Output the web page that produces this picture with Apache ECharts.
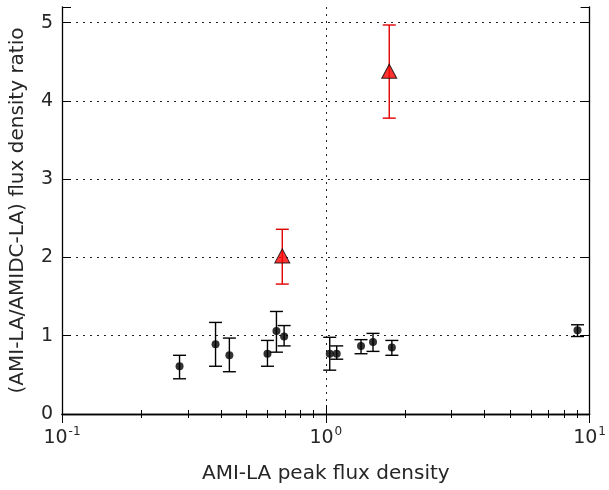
<!DOCTYPE html>
<html>
<head>
<meta charset="utf-8">
<script src="https://cdn.jsdelivr.net/npm/echarts@6/dist/echarts.min.js"></script>
<style>
  html, body { margin: 0; padding: 0; background: #fff; }
  #chart { width: 609px; height: 490px; }
</style>
</head>
<body>
<div id="chart"></div>
<script>
// 数据
var blackX  = [0.279, 0.382, 0.431, 0.601, 0.650, 0.695, 1.035, 1.10, 1.36, 1.51, 1.78, 9.0];
var blackY  = [0.61, 0.89, 0.75, 0.77, 1.06, 0.99, 0.77, 0.77, 0.87, 0.92, 0.85, 1.07];
var blackLo = [0.45, 0.61, 0.54, 0.61, 0.79, 0.87, 0.56, 0.70, 0.77, 0.80, 0.75, 0.99];
var blackHi = [0.75, 1.17, 0.97, 0.94, 1.31, 1.13, 0.98, 0.87, 0.95, 1.03, 0.94, 1.14];

var redX  = [0.684, 1.74];
var redY  = [2.02, 4.38];
var redLo = [1.66, 3.78];
var redHi = [2.36, 4.97];

var yTicks = [0, 1, 2, 3, 4, 5];

var font = 'DejaVu Sans';
var textColor = '#262626';

function pairs(xs, ys) {
  return xs.map(function (x, i) { return [x, ys[i]]; });
}

// 误差棒
function errorBars(xs, lo, hi, color) {
  return {
    type: 'custom',
    data: xs.map(function (x, i) { return [x, lo[i], hi[i]]; }),
    encode: { x: 0, y: [1, 2] },
    z: 2,
    silent: true,
    renderItem: function (params, api) {
      var a = api.coord([api.value(0), api.value(1)]);
      var b = api.coord([api.value(0), api.value(2)]);
      var hw = 6.5;
      var style = { stroke: color, lineWidth: 1.4 };
      return {
        type: 'group',
        children: [
          { type: 'line', shape: { x1: a[0], y1: a[1], x2: b[0], y2: b[1] }, style: style },
          { type: 'line', shape: { x1: a[0] - hw, y1: a[1], x2: a[0] + hw, y2: a[1] }, style: style },
          { type: 'line', shape: { x1: b[0] - hw, y1: b[1], x2: b[0] + hw, y2: b[1] }, style: style }
        ]
      };
    }
  };
}

// 10 的幂，上标
function logLabel(v) {
  var e = Math.round(Math.log10(v));
  return '{b|10}{s|' + (e < 0 ? '-' : '') + Math.abs(e) + '}';
}

var frameLine = { show: true, lineStyle: { color: '#000', width: 1.3 } };
var dotted = {
  show: true,
  showMinLine: false,
  showMaxLine: false,
  lineStyle: { color: '#222', type: [2, 5], width: 1 }
};

var chart = echarts.init(document.getElementById('chart'));

var option = {
  animation: false,
  textStyle: { fontFamily: font },
  grid: { left: 61, right: 17, top: 7, bottom: 76, containLabel: false },
  xAxis: [{
    type: 'log',
    logBase: 10,
    min: 0.1,
    max: 10,
    name: 'AMI-LA peak flux density',
    nameLocation: 'middle',
    nameGap: 50,
    nameTextStyle: { fontSize: 20, color: textColor, fontFamily: font },
    axisLine: frameLine,
    axisTick: { show: true, inside: true, length: 9, lineStyle: { color: '#000', width: 1 } },
    minorTick: { show: true, splitNumber: 9, length: 4, lineStyle: { color: '#000', width: 1 } },
    splitLine: dotted,
    axisLabel: {
      margin: 13,
      color: textColor,
      formatter: logLabel,
      rich: {
        b: { fontSize: 19, fontFamily: font, color: textColor, lineHeight: 22 },
        s: { fontSize: 12, fontFamily: font, color: textColor, lineHeight: 12, padding: [0, 0, 12, 1] }
      }
    }
  }, {
    type: 'log',
    logBase: 10,
    min: 0.1,
    max: 10,
    position: 'top',
    axisLine: frameLine,
    axisTick: { show: true, inside: true, length: 9, lineStyle: { color: '#000', width: 1 } },
    minorTick: { show: true, splitNumber: 9, length: 4, lineStyle: { color: '#000', width: 1 } },
    splitLine: { show: false },
    axisLabel: { show: false }
  }],
  yAxis: [{
    type: 'value',
    min: 0,
    max: 5.2,
    interval: 1,
    name: '(AMI-LA/AMIDC-LA) flux density ratio',
    nameLocation: 'middle',
    nameGap: 34,
    nameTextStyle: { fontSize: 20, color: textColor, fontFamily: font },
    axisLine: frameLine,
    axisTick: { show: true, inside: true, length: 9, lineStyle: { color: '#000', width: 1 } },
    splitLine: dotted,
    axisLabel: {
      margin: 9,
      fontSize: 19,
      color: textColor,
      formatter: function (v) { return yTicks.indexOf(v) >= 0 ? String(v) : ''; }
    }
  }, {
    type: 'value',
    min: 0,
    max: 5.2,
    interval: 1,
    position: 'right',
    axisLine: frameLine,
    axisTick: { show: true, inside: true, length: 9, lineStyle: { color: '#000', width: 1 } },
    splitLine: { show: false },
    axisLabel: { show: false }
  }],
  series: [
    errorBars(blackX, blackLo, blackHi, '#000'),
    {
      type: 'scatter',
      data: pairs(blackX, blackY),
      symbol: 'circle',
      symbolSize: 8,
      itemStyle: { color: '#000' },
      z: 3
    },
    errorBars(redX, redLo, redHi, '#e00000'),
    {
      type: 'scatter',
      data: pairs(redX, redY),
      symbol: 'triangle',
      symbolSize: [15, 14],
      itemStyle: { color: '#ff0000', borderColor: '#000', borderWidth: 1 },
      z: 4
    }
  ]
};

chart.setOption(option);
</script>
</body>
</html>
